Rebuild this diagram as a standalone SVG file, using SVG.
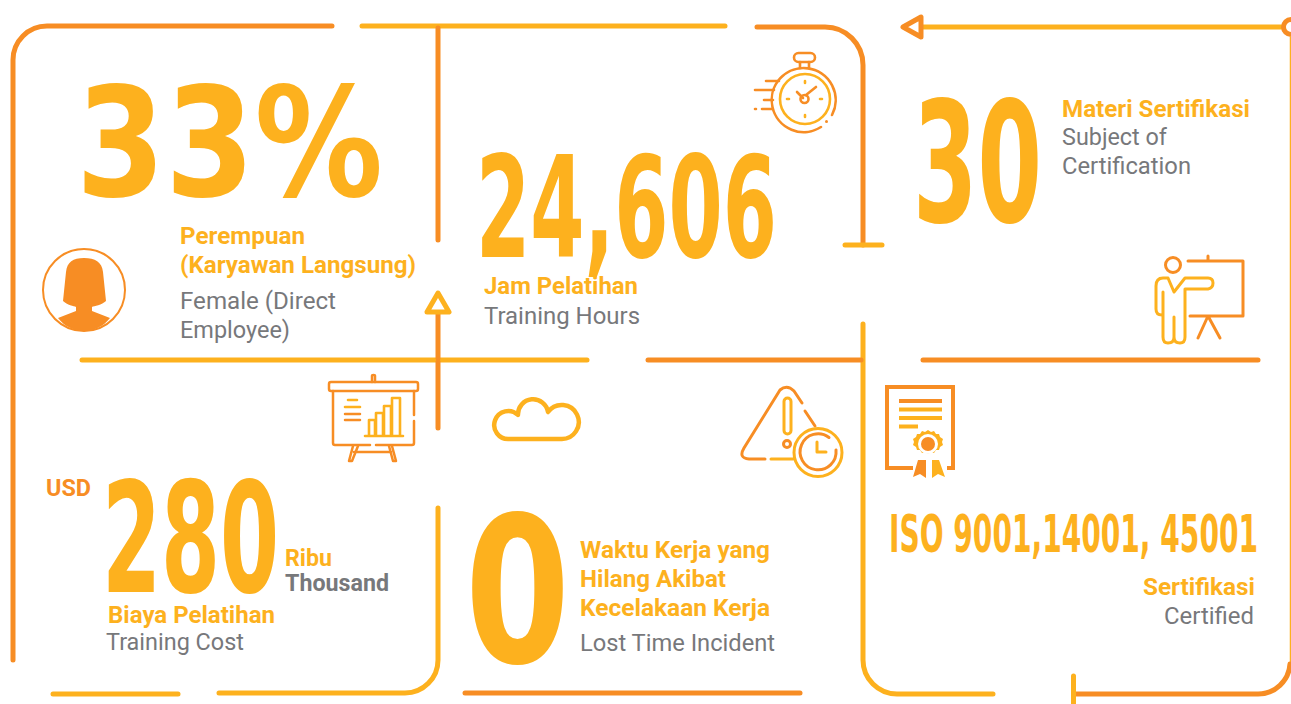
<svg xmlns="http://www.w3.org/2000/svg" width="1291" height="704" viewBox="0 0 1291 704">
<style>
.o{stroke:#f78d24}.y{stroke:#fdb11e}
#connectors path,#connectors line{fill:none;stroke-width:5;stroke-linecap:round;stroke-linejoin:round}
.ic{fill:none;stroke-width:2.6;stroke-linecap:round;stroke-linejoin:round}
text{font-family:"Roboto","Liberation Sans",sans-serif}
.big{font-family:"DejaVu Sans",sans-serif;font-weight:700;fill:#fdb11e}
.h{font-weight:700;font-size:23px;fill:#fdb11e}
.t{font-size:23px;fill:#77787b}
</style>
<rect width="1291" height="704" fill="#fff"/>
<g id="connectors">
<path class="o" d="M332 26H47A34 34 0 0 0 13 60V660"/>
<line class="y" x1="362" y1="26" x2="725" y2="26"/>
<line class="o" x1="438" y1="28" x2="438" y2="240"/>
<path class="o" d="M757 27H825A38 38 0 0 1 863 65V245"/>
<line class="y" x1="845" y1="245" x2="882" y2="245"/>
<line class="y" x1="923" y1="27" x2="1283" y2="27"/>
<path class="o" d="M921 17V37L903 27Z"/>
<circle class="o" cx="1291" cy="27" r="7.500" fill="none" stroke-width="5"/>
<line class="y" x1="1290.500" y1="37" x2="1290.500" y2="664" style="stroke-width:1.500"/>
<path class="o" d="M1075 694H1258A32 32 0 0 0 1290 664"/>
<line class="y" x1="1073.500" y1="676" x2="1073.500" y2="704"/>
<path class="y" d="M863 324V660A34 34 0 0 0 897 694H993"/>
<line class="y" x1="82" y1="360" x2="587" y2="360"/>
<line class="o" x1="438" y1="313" x2="438" y2="358"/>
<line class="o" x1="438" y1="362" x2="438" y2="428"/>
<path class="y" d="M438 293L449 312H427Z"/>
<line class="o" x1="648" y1="360" x2="861" y2="360"/>
<line class="o" x1="923" y1="360" x2="1258" y2="360"/>
<line class="y" x1="53" y1="694" x2="178" y2="694"/>
<path class="y" d="M219 693H405A33 33 0 0 0 438 660V508"/>
<line class="o" x1="465" y1="693" x2="800" y2="693"/>
</g>
<g id="node-female">
<text class="big" x="76" y="196" font-size="151" textLength="307" lengthAdjust="spacingAndGlyphs">33%</text>
<text class="h" x="180" y="244" textLength="125" lengthAdjust="spacingAndGlyphs">Perempuan</text>
<text class="h" x="180" y="273" textLength="236" lengthAdjust="spacingAndGlyphs">(Karyawan Langsung)</text>
<text class="t" x="180" y="309" textLength="156" lengthAdjust="spacingAndGlyphs">Female (Direct</text>
<text class="t" x="180" y="338" textLength="110" lengthAdjust="spacingAndGlyphs">Employee)</text>
<circle cx="84" cy="290" r="41" fill="none" stroke="#f78d24" stroke-width="2"/>
<path fill="#f78d24" d="M84 258C73 258 67 262 66 272L63 301C67 305 74 306 76 307V311L58 318C64 326 74 331 84 331C94 331 104 326 110 318L92 311V307C94 306 102 305 106 301L103 272C102 262 95 258 84 258Z"/>
</g>
<g id="node-hours">
<text class="big" x="476" y="257" font-size="141" textLength="301" lengthAdjust="spacingAndGlyphs">24,606</text>
<text class="h" x="484" y="294" textLength="154" lengthAdjust="spacingAndGlyphs">Jam Pelatihan</text>
<text class="t" x="484" y="324" textLength="156" lengthAdjust="spacingAndGlyphs">Training Hours</text>
<g class="ic o">
<rect x="794" y="53" width="21" height="9" rx="4.500"/>
<path d="M800 62V68M809 62V68"/>
<path d="M832 115A32 32 0 1 0 821 127"/>
<path d="M779 81H766M774 90H755M773 100H764M772 109H762M756 109H755"/>
<path d="M797 92L803 98M806 95L816 87"/>
<circle cx="804.500" cy="99" r="4"/>
</g>
<g class="ic y"><circle cx="805" cy="99" r="25"/><path d="M805 81V83M805 115V117M787 99H789M820 99H822"/></g>
<circle cx="826.500" cy="121.500" r="1.500" fill="#f78d24"/>
</g>
<g id="node-subject">
<text class="big" x="913" y="222" font-size="167" textLength="129" lengthAdjust="spacingAndGlyphs">30</text>
<text class="h" x="1062" y="117" textLength="188" lengthAdjust="spacingAndGlyphs">Materi Sertifikasi</text>
<text class="t" x="1062" y="145" textLength="105" lengthAdjust="spacingAndGlyphs">Subject of</text>
<text class="t" x="1062" y="174" textLength="129" lengthAdjust="spacingAndGlyphs">Certification</text>
<g class="ic o" style="stroke-width:3">
<circle cx="1173" cy="265" r="7.500"/>
<path d="M1188 261H1243V316H1190M1208 256V261M1208 316L1198 338M1208 316L1220 338"/>
</g>
<path class="ic y" style="stroke-width:3" d="M1168 278H1163Q1156 278 1156 286V309Q1156 315 1162 315H1163V337Q1163 343 1168 343Q1174 343 1174 337V317M1174 337Q1174 343 1180 343Q1185 343 1185 337V289H1208Q1213 288 1213 283Q1213 278 1208 278H1185L1174 292L1168 278M1163 292V315"/>
</g>
<g id="node-cost">
<text x="46" y="496" font-size="23" font-weight="700" fill="#f78d24" textLength="45" lengthAdjust="spacingAndGlyphs">USD</text>
<text class="big" x="102" y="592" font-size="153" textLength="177" lengthAdjust="spacingAndGlyphs">280</text>
<text class="h" x="285" y="566" textLength="47" lengthAdjust="spacingAndGlyphs">Ribu</text>
<text x="285" y="591" font-size="23" font-weight="700" fill="#77787b" textLength="104" lengthAdjust="spacingAndGlyphs">Thousand</text>
<text class="h" x="108" y="623" textLength="167" lengthAdjust="spacingAndGlyphs">Biaya Pelatihan</text>
<text class="t" x="106" y="650" textLength="138" lengthAdjust="spacingAndGlyphs">Training Cost</text>
<g class="ic o" style="stroke-width:2.500">
<rect x="329" y="382" width="89" height="9" rx="2"/>
<path d="M372 382V376Q372 375 373.500 375Q375 375 375 376V382"/>
<path d="M333 391V443Q333 445 335 445H370M376 445H412Q414 445 414 443V421M414 415V391"/>
<path d="M345 414H360M345 420H360"/>
<path d="M358 446L352 461H349L353 446M389 446L393 461H396L392 446M354 452H391"/>
</g>
<path class="ic y" d="M348 400H357M345 407H360M365 436H403M369 436V420H375V436M376 436V413H383V436M384 436V406H391V436M392 436V398H400V436"/>
</g>
<g id="node-incident">
<text class="big" x="465" y="662" font-size="203" textLength="105" lengthAdjust="spacingAndGlyphs">0</text>
<text class="h" x="580" y="558" textLength="190" lengthAdjust="spacingAndGlyphs">Waktu Kerja yang</text>
<text class="h" x="580" y="587" textLength="146" lengthAdjust="spacingAndGlyphs">Hilang Akibat</text>
<text class="h" x="580" y="616" textLength="190" lengthAdjust="spacingAndGlyphs">Kecelakaan Kerja</text>
<text class="t" x="580" y="651" textLength="195" lengthAdjust="spacingAndGlyphs">Lost Time Incident</text>
<path class="ic y" style="stroke-width:4.500" d="M509 439H561A17 17 0 1 0 548 412A15.100 15.100 0 0 0 518 415A14 14 0 1 0 509 439Z"/>
<g class="ic o" style="stroke-width:3">
<path d="M765 459H749Q738 458 744 448L780 390Q787 384 794 391L802 403"/>
<path d="M805 411L815 426"/>
<path d="M836 450A18 18 0 1 1 829 437.500"/>
<circle cx="787" cy="444" r="3.500"/>
</g>
<g class="ic y" style="stroke-width:3">
<rect x="784" y="398" width="7" height="36" rx="3.500"/>
<path d="M771 459H793M817 442V452H826"/>
<circle cx="818" cy="452.500" r="24"/>
</g>
</g>
<g id="node-certified">
<text class="big" x="889" y="552" font-size="51" textLength="369" lengthAdjust="spacingAndGlyphs">ISO 9001,14001, 45001</text>
<text class="h" x="1143" y="595" textLength="112" lengthAdjust="spacingAndGlyphs">Sertifikasi</text>
<text class="t" x="1164" y="624" textLength="90" lengthAdjust="spacingAndGlyphs">Certified</text>
<path fill="none" stroke="#f78d24" stroke-width="4" d="M913 468H887V387H953V468H947"/>
<path stroke="#f78d24" stroke-width="4" d="M899 401H942"/>
<path stroke="#fdb11e" stroke-width="4" d="M899 409.500H942M899 418H942M899 426.500H918"/>
<path fill="#fdb11e" d="M928 430l3 2 3-1 2 3 3 0 1 3 3 2-1 3 1 3-3 2-1 3-3 0-2 3-3-1-3 2-3-2-3 1-2-3-3 0-1-3-3-2 1-3-1-3 3-2 1-3 3 0 2-3 3 1z"/>
<circle cx="928" cy="444" r="10" fill="#fff"/>
<circle cx="928" cy="444" r="7" fill="#f78d24"/>
<path fill="#f78d24" d="M918 460H926V478L920 474L913 477Z"/>
<path fill="#fdb11e" d="M932 460H939L945 477L938 474L932 478Z"/>
</g>
</svg>
